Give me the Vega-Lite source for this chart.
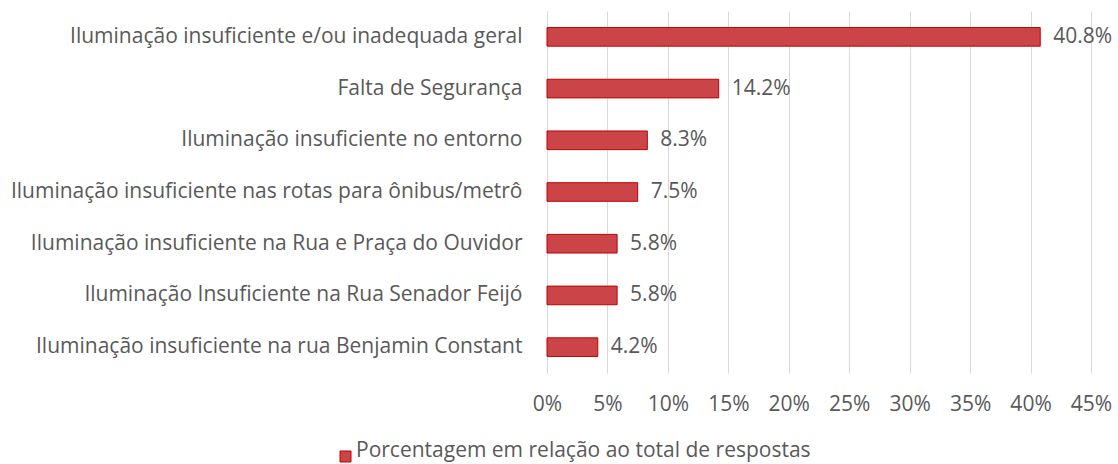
{
  "$schema": "https://vega.github.io/schema/vega-lite/v6.json",
  "width": 544,
  "height": 362,
  "padding": {"top": 11, "left": 10, "right": 0, "bottom": 0},
  "background": "white",
  "config": {
    "font": "Open Sans",
    "view": {"stroke": null}
  },
  "data": {
    "values": [
      {"categoria": "Iluminação insuficiente e/ou inadequada geral", "valor": 0.408, "serie": "Porcentagem em relação ao total de respostas"},
      {"categoria": "Falta de Segurança", "valor": 0.142, "serie": "Porcentagem em relação ao total de respostas"},
      {"categoria": "Iluminação insuficiente no entorno", "valor": 0.083, "serie": "Porcentagem em relação ao total de respostas"},
      {"categoria": "Iluminação insuficiente nas rotas para ônibus/metrô", "valor": 0.075, "serie": "Porcentagem em relação ao total de respostas"},
      {"categoria": "Iluminação insuficiente na Rua e Praça do Ouvidor", "valor": 0.058, "serie": "Porcentagem em relação ao total de respostas"},
      {"categoria": "Iluminação Insuficiente na Rua Senador Feijó", "valor": 0.058, "serie": "Porcentagem em relação ao total de respostas"},
      {"categoria": "Iluminação insuficiente na rua Benjamin Constant", "valor": 0.042, "serie": "Porcentagem em relação ao total de respostas"}
    ]
  },
  "encoding": {
    "y": {
      "field": "categoria",
      "type": "nominal",
      "sort": null,
      "title": null,
      "scale": {"paddingInner": 0.64, "paddingOuter": 0.32},
      "axis": {
        "domain": true,
        "domainColor": "#D9D9D9",
        "ticks": false,
        "labelPadding": 25,
        "labelFontSize": 21,
        "labelColor": "#595959",
        "labelLimit": 700
      }
    },
    "x": {
      "field": "valor",
      "type": "quantitative",
      "title": null,
      "scale": {"domain": [0, 0.45], "nice": false},
      "axis": {
        "values": [0, 0.05, 0.1, 0.15, 0.2, 0.25, 0.3, 0.35, 0.4, 0.45],
        "format": ".0%",
        "domain": false,
        "ticks": false,
        "grid": true,
        "gridColor": "#D9D9D9",
        "labelOverlap": false,
        "labelBound": false,
        "labelFlush": false,
        "labelPadding": 20,
        "labelFontSize": 21,
        "labelColor": "#595959"
      }
    }
  },
  "layer": [
    {
      "mark": {"type": "bar", "stroke": "#C00000", "strokeWidth": 1},
      "encoding": {
        "color": {
          "field": "serie",
          "type": "nominal",
          "scale": {"range": ["#CB4548"]},
          "legend": {
            "title": null,
            "orient": "none",
            "legendX": -212,
            "legendY": 435,
            "symbolType": "square",
            "symbolSize": 121,
            "symbolStrokeColor": "#C00000",
            "symbolStrokeWidth": 1,
            "labelFontSize": 21,
            "labelColor": "#595959",
            "labelLimit": 700,
            "labelOffset": 0,
            "labelBaseline": "alphabetic"
          }
        }
      }
    },
    {
      "mark": {"type": "text", "align": "left", "dx": 13, "fontSize": 21, "color": "#595959"},
      "encoding": {
        "text": {"field": "valor", "type": "quantitative", "format": ".1%"}
      }
    }
  ]
}
